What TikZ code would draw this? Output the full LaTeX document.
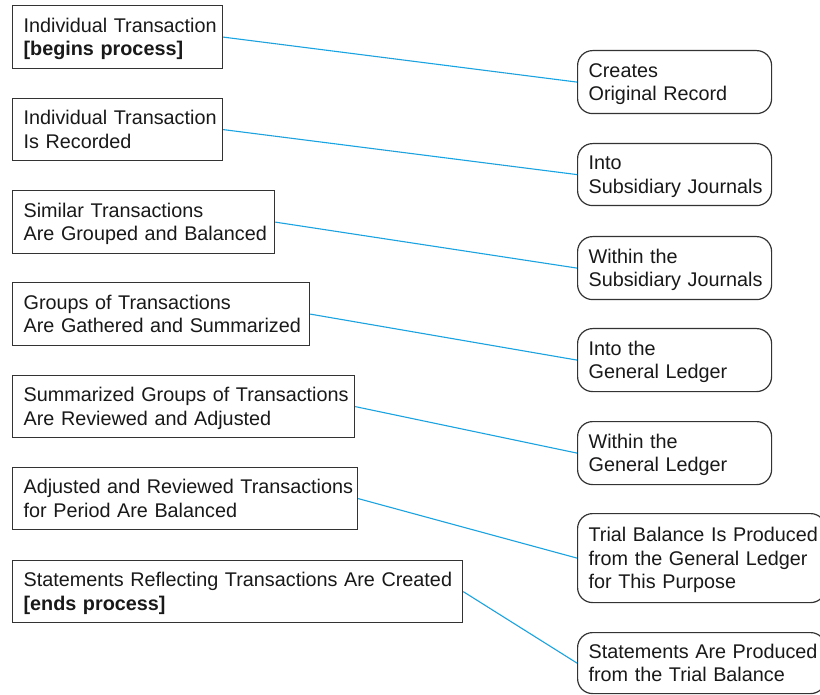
\documentclass[tikz,border=0pt]{standalone}
\usepackage{fontspec}
\setmainfont{Liberation Sans}
\definecolor{linkblue}{HTML}{1AA3E0}
\definecolor{boxgray}{HTML}{333333}
\newcommand{\Lx}[1]{\mbox{#1}}
\newcommand{\Ltop}{\rule{0pt}{19pt}}
\newcommand{\Lbot}{\rule[-5pt]{0pt}{5pt}}
\begin{document}
\begin{tikzpicture}[x=1pt,y=-1pt,
  lbox/.style={draw=boxgray, line width=1.2pt, rectangle, anchor=north west,
    align=left, inner xsep=11pt, inner ysep=0pt,
    font=\fontsize{19.8}{23.5}\selectfont, text=black!90},
  rbox/.style={lbox, rounded corners=15pt},
  link/.style={draw=linkblue, line width=1.1pt}]
\useasboundingbox (0,0) rectangle (820,695);
\clip (0,0) rectangle (820,695);
\fill[white] (0,0) rectangle (820,695);

% left boxes
\node[lbox, text width=188pt, minimum height=63pt] (l1) at (12,5)
  {\Ltop\Lx{Individual Transaction}\\\Lx{\textbf{[begins process]}}\Lbot};
\node[lbox, text width=188pt, minimum height=62pt] (l2) at (12,98)
  {\Ltop\Lx{Individual Transaction}\\\Lx{Is Recorded}\Lbot};
\node[lbox, text width=240pt, minimum height=63pt] (l3) at (12,190)
  {\Ltop\Lx{Similar Transactions}\\\Lx{Are Grouped and Balanced}\Lbot};
\node[lbox, text width=275pt, minimum height=63pt] (l4) at (12,282)
  {\Ltop\Lx{Groups of Transactions}\\\Lx{Are Gathered and Summarized}\Lbot};
\node[lbox, text width=320pt, minimum height=62pt] (l5) at (12,375)
  {\Ltop\Lx{Summarized Groups of Transactions}\\\Lx{Are Reviewed and Adjusted}\Lbot};
\node[lbox, text width=323pt, minimum height=62pt] (l6) at (12,467)
  {\Ltop\Lx{Adjusted and Reviewed Transactions}\\\Lx{for Period Are Balanced}\Lbot};
\node[lbox, text width=428pt, minimum height=62pt] (l7) at (12,560)
  {\Ltop\Lx{Statements Reflecting Transactions Are Created}\\\Lx{\textbf{[ends process]}}\Lbot};

% right boxes
\node[rbox, text width=172pt, minimum height=63pt] (r1) at (577,50)
  {\Ltop\Lx{Creates}\\\Lx{Original Record}\Lbot};
\node[rbox, text width=172pt, minimum height=62pt] (r2) at (577,143)
  {\Ltop\Lx{Into}\\\Lx{Subsidiary Journals}\Lbot};
\node[rbox, text width=172pt, minimum height=63pt] (r3) at (577,236)
  {\Ltop\Lx{Within the}\\\Lx{Subsidiary Journals}\Lbot};
\node[rbox, text width=172pt, minimum height=63pt] (r4) at (577,328)
  {\Ltop\Lx{Into the}\\\Lx{General Ledger}\Lbot};
\node[rbox, text width=172pt, minimum height=63pt] (r5) at (577,421)
  {\Ltop\Lx{Within the}\\\Lx{General Ledger}\Lbot};
\node[rbox, text width=226pt, minimum height=89pt] (r6) at (577,513)
  {\Ltop\Lx{Trial Balance Is Produced}\\\Lx{from the General Ledger}\\\Lx{for This Purpose}\Lbot};
\node[rbox, text width=226pt, minimum height=61pt] (r7) at (577,632)
  {\Ltop\Lx{Statements Are Produced}\\\Lx{from the Trial Balance}\Lbot};

% connectors
\foreach \i in {1,...,7} {
  \draw[link] (l\i.east) -- (r\i.west);
}
\end{tikzpicture}
\end{document}
